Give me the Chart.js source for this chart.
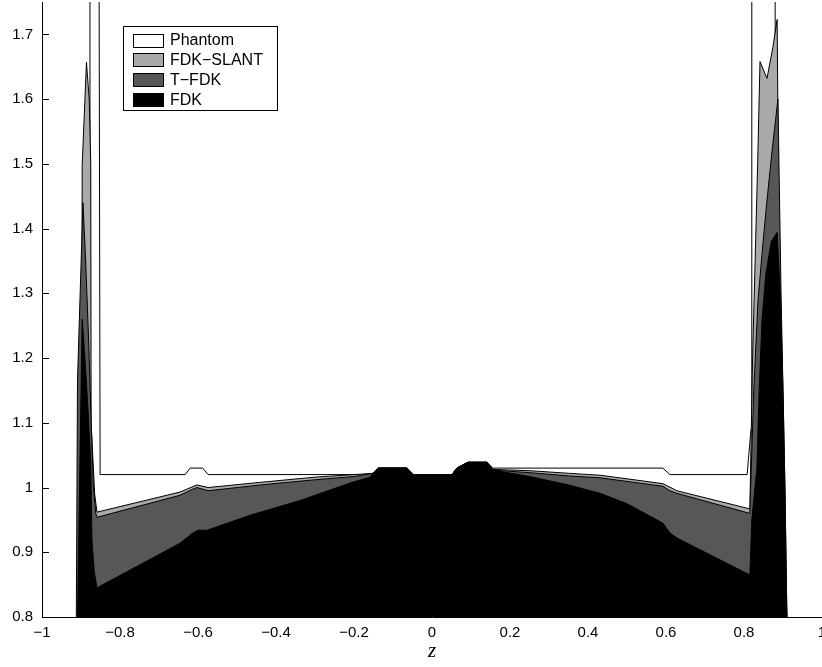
<!DOCTYPE html>
<html>
<head>
<meta charset="utf-8">
<script src="https://cdn.jsdelivr.net/npm/chart.js@4.4.0/dist/chart.umd.min.js"></script>
<style>
	html, body { margin: 0; padding: 0; background: #fff; }
	#wrap { width: 822px; height: 667px; }
</style>
</head>
<body>
<div id="wrap"><canvas id="profile_chart" width="822" height="667"></canvas></div>
<script>
const series_names = ['Phantom', 'FDK\u2212SLANT', 'T\u2212FDK', 'FDK']
const series_colors = ['#ffffff', '#a9a9a9', '#575757', '#000000']

const x_ticks = [-1, -0.8, -0.6, -0.4, -0.2, 0, 0.2, 0.4, 0.6, 0.8, 1]
const y_ticks = [0.8, 0.9, 1, 1.1, 1.2, 1.3, 1.4, 1.5, 1.6, 1.7]

// profiles along z
const phantom_z = [-0.879, -0.877, -0.856, -0.851, -0.633, -0.62, -0.588, -0.574, -0.151, -0.138, -0.064, -0.049, 0.051, 0.064, 0.092, 0.141, 0.156, 0.592, 0.61, 0.808, 0.818, 0.82, 0.879, 0.881]
const phantom_values = [0.8, 2.5, 2.5, 1.02, 1.02, 1.03, 1.03, 1.02, 1.02, 1.03, 1.03, 1.02, 1.02, 1.03, 1.039, 1.039, 1.03, 1.03, 1.02, 1.02, 1.09, 2.5, 2.5, 0.8]

const slant_z = [-0.898, -0.897, -0.886, -0.879, -0.875, -0.874, -0.865, -0.859, -0.646, -0.603, -0.574, -0.44, -0.3, -0.2, -0.151, -0.138, -0.064, -0.049, 0.051, 0.064, 0.092, 0.141, 0.156, 0.25, 0.35, 0.431, 0.592, 0.628, 0.815, 0.822, 0.835, 0.841, 0.859, 0.874, 0.885, 0.892, 0.9, 0.91]
const slant_values = [0.8, 1.497, 1.657, 1.6, 1.5, 1.1, 0.99, 0.962, 0.993, 1.004, 1.0, 1.008, 1.016, 1.02, 1.022, 1.03, 1.03, 1.02, 1.02, 1.03, 1.039, 1.039, 1.028, 1.026, 1.022, 1.019, 1.006, 0.995, 0.967, 1.2, 1.5, 1.658, 1.632, 1.68, 1.723, 1.2, 1.0, 0.8]

const tfdk_z = [-0.912, -0.909, -0.895, -0.888, -0.88, -0.874, -0.868, -0.862, -0.859, -0.646, -0.615, -0.603, -0.574, -0.44, -0.3, -0.2, -0.151, -0.138, -0.064, -0.049, 0.051, 0.064, 0.092, 0.141, 0.156, 0.25, 0.35, 0.431, 0.592, 0.61, 0.628, 0.815, 0.825, 0.836, 0.849, 0.859, 0.872, 0.887, 0.895, 0.905, 0.91]
const tfdk_values = [0.8, 1.166, 1.44, 1.35, 1.22, 1.1, 1.0, 0.96, 0.954, 0.988, 0.997, 1.0, 0.995, 1.004, 1.012, 1.017, 1.022, 1.03, 1.03, 1.02, 1.02, 1.03, 1.039, 1.039, 1.027, 1.023, 1.018, 1.015, 1.002, 0.995, 0.991, 0.96, 1.15, 1.29, 1.38, 1.444, 1.52, 1.6, 1.3, 1.0, 0.8]

const fdk_z = [-0.909, -0.897, -0.89, -0.882, -0.875, -0.872, -0.866, -0.859, -0.646, -0.615, -0.6, -0.577, -0.467, -0.338, -0.21, -0.159, -0.151, -0.138, -0.064, -0.049, 0.051, 0.064, 0.092, 0.141, 0.156, 0.25, 0.35, 0.431, 0.5, 0.592, 0.61, 0.628, 0.815, 0.82, 0.833, 0.838, 0.846, 0.856, 0.87, 0.885, 0.893, 0.9, 0.905, 0.91]
const fdk_values = [0.8, 1.26, 1.2, 1.12, 1.04, 0.92, 0.87, 0.845, 0.914, 0.929, 0.934, 0.934, 0.957, 0.98, 1.007, 1.016, 1.022, 1.03, 1.03, 1.02, 1.02, 1.03, 1.039, 1.039, 1.027, 1.017, 1.004, 0.991, 0.975, 0.945, 0.93, 0.922, 0.865, 0.95, 1.03, 1.135, 1.258, 1.33, 1.38, 1.394, 1.3, 1.15, 1.0, 0.8]

const to_points = (zs, vals) => zs.map((z, i) => ({ x: z, y: vals[i] }))
const series_points = [
	to_points(phantom_z, phantom_values),
	to_points(slant_z, slant_values),
	to_points(tfdk_z, tfdk_values),
	to_points(fdk_z, fdk_values),
]

const fmt = (v) => {
	const r = Math.round(v * 10) / 10
	return (r < 0 ? '\u2212' : '') + String(Math.abs(r))
}

Chart.defaults.color = '#000'
Chart.defaults.font.family = '"Liberation Sans", Arial, sans-serif'
Chart.defaults.font.size = 15

// inward ticks, axis lines and the boxed legend, MATLAB style
const frame_plugin = {
	id: 'frame',
	afterDraw(chart) {
		const ctx = chart.ctx
		const { left, right, top, bottom } = chart.chartArea
		const xs = chart.scales.x
		const ys = chart.scales.y
		ctx.save()
		ctx.strokeStyle = '#000'
		ctx.lineWidth = 1
		ctx.beginPath()
		ctx.moveTo(left + 0.5, top)
		ctx.lineTo(left + 0.5, bottom + 0.5)
		ctx.lineTo(right, bottom + 0.5)
		x_ticks.forEach((v) => {
			const px = Math.round(xs.getPixelForValue(v)) + 0.5
			ctx.moveTo(px, bottom)
			ctx.lineTo(px, bottom - 7)
		})
		y_ticks.forEach((v) => {
			const py = Math.round(ys.getPixelForValue(v)) + 0.5
			ctx.moveTo(left, py)
			ctx.lineTo(left + 7, py)
		})
		ctx.stroke()

		// legend
		ctx.fillStyle = '#fff'
		ctx.fillRect(123.5, 26.5, 154, 84)
		ctx.strokeRect(123.5, 26.5, 154, 84)
		ctx.font = '16px "Liberation Sans", Arial, sans-serif'
		ctx.textBaseline = 'middle'
		series_names.forEach((name, i) => {
			const cy = 40 + i * 19.7
			ctx.fillStyle = series_colors[i]
			ctx.fillRect(133.5, Math.round(cy - 6.5) + 0.5, 30, 13)
			ctx.strokeRect(133.5, Math.round(cy - 6.5) + 0.5, 30, 13)
			ctx.fillStyle = '#000'
			ctx.fillText(name, 170, cy + 1)
		})
		ctx.restore()
	},
}

// eslint-disable-next-line
const profile_chart = new Chart(document.getElementById('profile_chart'), {
	type: 'line',
	data: {
		datasets: series_names.map((name, i) => ({
			label: name,
			data: series_points[i],
			backgroundColor: series_colors[i],
			borderColor: '#000',
			borderWidth: 1,
			pointRadius: 0,
			tension: 0,
			fill: 'start',
			order: series_names.length - i,
		})),
	},
	options: {
		responsive: false,
		animation: false,
		layout: { padding: { top: 2, left: 0, right: 0, bottom: 0 } },
		plugins: {
			legend: { display: false },
			tooltip: { enabled: false },
		},
		scales: {
			x: {
				type: 'linear',
				min: -1,
				max: 1,
				grid: { display: false, drawTicks: false },
				border: { display: false },
				afterBuildTicks: (scale) => {
					scale.ticks = x_ticks.map((v) => ({ value: v }))
				},
				ticks: { padding: 7, maxRotation: 0, autoSkip: false, callback: (v) => fmt(v) },
				title: {
					display: true,
					text: 'z',
					font: { family: '"Liberation Serif", "DejaVu Serif", serif', style: 'italic', size: 21 },
					padding: { top: 0, bottom: 3 },
				},
				afterFit: (scale) => {
					scale.height = 50
					scale.paddingLeft = 0
					scale.paddingRight = 0
				},
			},
			y: {
				min: 0.8,
				max: 1.75,
				grid: { display: false, drawTicks: false },
				border: { display: false },
				afterBuildTicks: (scale) => {
					scale.ticks = y_ticks.map((v) => ({ value: v }))
				},
				ticks: { padding: 9, autoSkip: false, callback: (v) => fmt(v) },
				afterFit: (scale) => {
					scale.width = 42
					scale.paddingTop = 0
					scale.paddingBottom = 0
				},
			},
		},
	},
	plugins: [frame_plugin],
})
</script>
</body>
</html>
